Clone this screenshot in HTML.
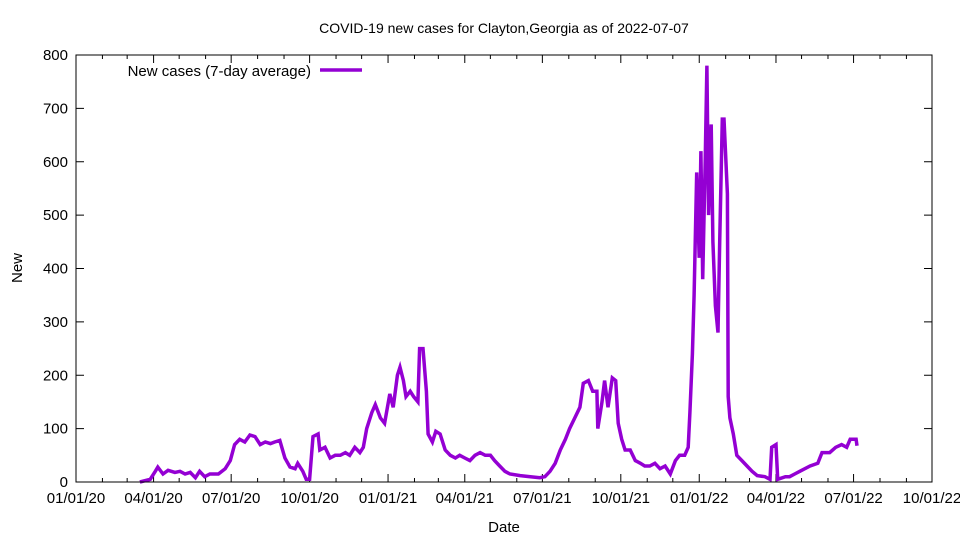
<!DOCTYPE html>
<html><head><meta charset="utf-8"><style>
body{margin:0;background:#fff;}
svg text{font-family:"Liberation Sans",sans-serif;fill:#000;}
</style></head><body>
<svg id="chart" width="960" height="540" viewBox="0 0 960 540" xmlns="http://www.w3.org/2000/svg">
<rect x="0" y="0" width="960" height="540" fill="#fff"/>
<text x="504" y="33" font-size="14" text-anchor="middle">COVID-19 new cases for Clayton,Georgia as of 2022-07-07</text>
<text x="504" y="532" font-size="15" text-anchor="middle">Date</text>
<text x="22" y="268" font-size="15" text-anchor="middle" transform="rotate(-90 22 268)">New</text>
<g id="axes"></g>
<path id="series" fill="none" stroke="#9400d3" stroke-width="3.5" stroke-linejoin="miter"/>
<g>
<text x="311" y="76" font-size="15" text-anchor="end">New cases (7-day average)</text>
<line x1="320" y1="70" x2="362" y2="70" stroke="#9400d3" stroke-width="3.5"/>
</g>
<rect x="76" y="55" width="856" height="427" fill="none" stroke="#000" stroke-width="1"/>
</svg>
<script>
// days since 2020-01-01
const days=[75,87,93,96,102,108,116,122,128,134,140,145,151,157,167,175,181,186,192,198,204,210,216,222,228,233,239,245,251,257,260,266,270,274,278,284,286,292,298,304,310,316,321,327,333,337,341,347,351,357,362,368,372,377,380,384,387,392,396,401,403,407,411,413,418,422,427,433,439,445,450,456,462,468,474,480,486,491,497,503,509,521,533,544,550,556,562,568,574,579,585,591,595,601,606,611,612,617,620,624,629,633,636,640,644,650,656,662,667,673,679,685,691,697,703,708,714,718,720,723,725,728,731,733,735,738,740,742,745,747,750,753,755,758,760,764,765,767,771,775,781,787,793,799,808,814,816,821,823,832,837,843,849,861,870,875,884,891,898,904,908,915,916];
const cases=[0,5,20,28,15,22,18,20,15,18,8,20,10,15,15,25,40,70,80,75,88,85,70,75,72,75,78,45,28,25,35,20,5,5,85,90,60,65,45,50,50,55,50,65,55,65,100,130,145,120,110,165,140,200,215,190,160,170,160,150,250,250,170,90,75,95,90,60,50,45,50,45,40,50,55,50,50,40,30,20,15,12,10,8,10,20,35,60,80,100,120,140,185,190,170,170,100,150,190,140,195,190,110,80,60,60,40,35,30,30,35,25,30,15,40,50,50,65,130,240,350,580,420,620,380,600,780,500,670,450,330,280,450,680,680,540,160,120,90,50,40,30,20,12,10,5,65,70,5,10,10,15,20,30,35,55,55,65,70,65,80,80,68];
const yTicks=[0,100,200,300,400,500,600,700,800];
const xTickLabels=["01/01/20","04/01/20","07/01/20","10/01/20","01/01/21","04/01/21","07/01/21","10/01/21","01/01/22","04/01/22","07/01/22","10/01/22"];

const X0=76,X1=932,Y0=482,Y1=55,DMAX=1004,VMAX=800;
const xs=d=>X0+(X1-X0)*d/DMAX;
const ys=v=>Y0-(Y0-Y1)*v/VMAX;
const NS="http://www.w3.org/2000/svg";
const axes=document.getElementById('axes');
function mk(tag,attrs){const e=document.createElementNS(NS,tag);for(const k in attrs)e.setAttribute(k,attrs[k]);axes.appendChild(e);return e;}
// y ticks
yTicks.forEach(v=>{
  const y=ys(v);
  const t1=mk('line',{x1:X0,y1:y,x2:X0+8,y2:y,stroke:'#000'});
  
  
  const t2=mk('line',{x1:X1-8,y1:y,x2:X1,y2:y,stroke:'#000'});
  
  
  const tx=mk('text',{x:X0-8,y:y+5,'font-size':15,'text-anchor':'end'});
  tx.textContent=v;
  
  
});
// x ticks monthly
const base=Date.UTC(2020,0,1);
for(let m=0;m<=33;m++){
  const d=(Date.UTC(2020,m,1)-base)/86400000;
  const x=xs(d);
  const major=m%3===0;
  const len=major?8:4;
  const t1=mk('line',{x1:x,y1:Y0,x2:x,y2:Y0-len,stroke:'#000'});
  
  
  const t2=mk('line',{x1:x,y1:Y1,x2:x,y2:Y1+len,stroke:'#000'});
  
  
  if(major){
    const tx=mk('text',{x:x,y:503,'font-size':15,'text-anchor':'middle'});
    tx.textContent=xTickLabels[m/3];
    
    
  }
}
// series
let p='';
days.forEach((d,i)=>{p+=(i?'L':'M')+xs(d).toFixed(1)+' '+ys(cases[i]).toFixed(1);});
document.getElementById('series').setAttribute('d',p);
</script>
</body></html>
